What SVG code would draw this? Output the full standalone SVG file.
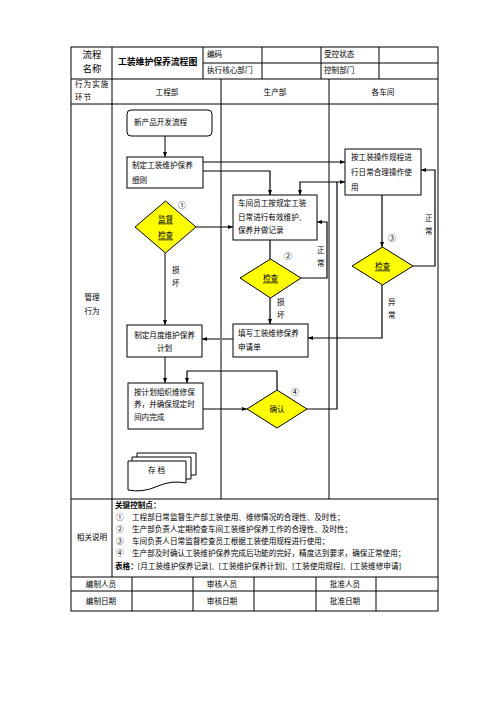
<svg xmlns="http://www.w3.org/2000/svg" width="496" height="702" viewBox="0 0 496 702">
<style>
text{font-family:"Liberation Serif","Noto Sans CJK SC",sans-serif;font-size:7.6px;fill:#000;dominant-baseline:central}
.t{fill:none;stroke:#000;stroke-width:1}
.box{fill:#fff;stroke:#000;stroke-width:1}
.dia{fill:#ffff00;stroke:#000;stroke-width:1}
.c{text-anchor:middle}
.big{font-size:9.5px}
.b{font-weight:bold}
.u{text-decoration:underline}
.k{fill:none;stroke:#000;stroke-width:1.2}
.g{fill:none;stroke:#808080;stroke-width:2}
.n{font-size:8px}
</style>
<defs>
<marker id="a" viewBox="0 0 10 10" refX="10" refY="5" markerWidth="5" markerHeight="5" markerUnits="userSpaceOnUse" orient="auto"><path d="M0,1 L10,5 L0,9 z" fill="#000"/></marker>
</defs>
<rect width="496" height="702" fill="#fff"/>
<g id="table">
<rect class="t" x="71" y="47" width="367" height="564"/>
<path class="t" d="M71,79 H438 M71,104 H438 M71,499 H438 M71,577 H438 M71,591 H438 M203,63 H438"/>
<path class="t" d="M112,47 V577 M203,47 V79 M262,47 V79 M321,47 V79 M379,47 V79 M221,79 V499 M329,79 V499"/>
<path class="t" d="M132,577 V611 M193,577 V611 M254,577 V611 M316,577 V611 M376,577 V611"/>
<text class="c big" x="92" y="55">流程</text>
<text class="c big" x="92" y="69">名称</text>
<text class="b" x="118" y="62" style="font-size:8.8px">工装维护保养流程图</text>
<text x="207" y="54">编码</text>
<text x="207" y="70">执行核心部门</text>
<text x="324" y="54">受控状态</text>
<text x="324" y="70">控制部门</text>
<text x="75" y="84" style="letter-spacing:1px">行为实施</text>
<text x="75" y="97" style="letter-spacing:1px">环节</text>
<text class="c" x="167" y="92">工程部</text>
<text class="c" x="275" y="92">生产部</text>
<text class="c" x="383" y="92">各车间</text>
<text class="c" x="92" y="297">管理</text>
<text class="c" x="92" y="311">行为</text>
<text class="c" x="92" y="537">相关说明</text>
<text class="b" x="115" y="505">关键控制点：</text>
<text x="116" y="517">①</text><text x="132" y="517">工程部日常监督生产部工装使用、维修情况的合理性、及时性；</text>
<text x="116" y="529">②</text><text x="132" y="529">生产部负责人定期检查车间工装维护保养工作的合理性、及时性；</text>
<text x="116" y="541">③</text><text x="132" y="541">车间负责人日常监督检查员工根据工装使用规程进行使用；</text>
<text x="116" y="553">④</text><text x="132" y="553">生产部及时确认工装维护保养完成后功能的完好，精度达到要求，确保正常使用；</text>
<text x="115" y="566"><tspan class="b">表格：</tspan>[月工装维护保养记录]、[工装维护保养计划]、[工装使用规程]、[工装维修申请]</text>
<text class="c" x="101" y="584">编制人员</text>
<text class="c" x="222" y="584">审核人员</text>
<text class="c" x="345" y="584">批准人员</text>
<text class="c" x="101" y="601">编制日期</text>
<text class="c" x="222" y="601">审核日期</text>
<text class="c" x="345" y="601">批准日期</text>
</g>
<g id="connectors">
<path class="g" d="M165,136 V157" marker-end="url(#a)"/>
<path class="k" d="M203,162 H345" marker-end="url(#a)"/>
<path class="k" d="M203,171 H270 V195" marker-end="url(#a)"/>
<path class="k" d="M196,227 H233" marker-end="url(#a)"/>
<path class="g" d="M165,253 V325" marker-end="url(#a)"/>
<path class="k" d="M270,240 V259"/>
<path class="k" d="M301,278 H327 V222 H317" marker-end="url(#a)"/>
<path class="k" d="M270,298 V324" marker-end="url(#a)"/>
<path class="k" d="M382,195 V247" marker-end="url(#a)"/>
<path class="k" d="M413,266 H435 V170 H421" marker-end="url(#a)"/>
<path class="k" d="M382,285 V338 H308" marker-end="url(#a)"/>
<path class="g" d="M233,339 H202" marker-end="url(#a)"/>
<path class="g" d="M165,357 V383" marker-end="url(#a)"/>
<path class="k" d="M203,409 H247" marker-end="url(#a)"/>
<path class="k" d="M277,390 V371 H187 V383" marker-end="url(#a)"/>
<path class="k" d="M307,409 H337 V182 H345" marker-end="url(#a)"/>
<path class="k" d="M337,182 H300 V195" marker-end="url(#a)"/>
<text x="172" y="270">损</text><text x="172" y="283">坏</text>
<text x="277" y="302">损</text><text x="277" y="315">坏</text>
<text x="317" y="250">正</text><text x="317" y="263">常</text>
<text x="425" y="218">正</text><text x="425" y="231">常</text>
<text x="388" y="302">异</text><text x="388" y="315">常</text>
<text class="n c" x="182" y="205">①</text>
<text class="n c" x="288" y="256">②</text>
<text class="n c" x="392" y="238">③</text>
<text class="n c" x="295" y="392">④</text>
</g>
<g id="n-start"><rect class="box" x="127" y="110" width="85" height="26" rx="4"/><text x="134" y="122">新产品开发流程</text></g>
<g id="n-rules"><rect class="box" x="127" y="157" width="76" height="31"/><text x="132" y="165">制定工装维护保养</text><text x="132" y="180">细则</text></g>
<g id="n-operate"><rect class="box" x="345" y="149" width="76" height="46"/><text x="351" y="157">按工装操作规程进</text><text x="351" y="172">行日常合理操作使</text><text x="351" y="187">用</text></g>
<g id="n-maintain"><rect class="box" x="233" y="195" width="84" height="45"/><text x="238" y="203">车间员工按规定工装</text><text x="238" y="217">日常进行有效维护、</text><text x="238" y="230">保养并做记录</text></g>
<g id="n-check1"><path class="dia" d="M165.5,201 L196,227 L165.5,253 L135,227 Z"/><text class="c u" x="165.5" y="219">监督</text><text class="c u" x="165.5" y="235">检查</text></g>
<g id="n-check2"><path class="dia" d="M270.5,259 L301,278 L270.5,298 L240,278 Z"/><text class="c u" x="270.5" y="278">检查</text></g>
<g id="n-check3"><path class="dia" d="M382.5,247 L413,266 L382.5,285 L352,266 Z"/><text class="c u" x="382.5" y="266">检查</text></g>
<g id="n-request"><rect class="box" x="233" y="324" width="75" height="33"/><text x="238" y="333">填写工装维修保养</text><text x="238" y="347">申请单</text></g>
<g id="n-plan"><rect class="box" x="127" y="325" width="75" height="32"/><text class="c" x="164.5" y="335">制定月度维护保养</text><text class="c" x="164.5" y="348">计划</text></g>
<g id="n-exec"><rect class="box" x="128" y="383" width="75" height="46"/><text x="134" y="392">按计划组织维修保</text><text x="134" y="404">养，并确保规定时</text><text x="134" y="417">间内完成</text></g>
<g id="n-confirm"><path class="dia" d="M277,390 L307,409 L277,428 L247,409 Z"/><text class="c" x="277" y="409">确认</text></g>
<g id="n-archive">
<path class="box" d="M137,457 V453 H196 V475 H191"/>
<path class="box" d="M132,461 V457 H191 V479 H186"/>
<path class="box" d="M128,461 H186 V483 Q172,480 158,486 Q143,493 128,490 Z"/>
<text x="148" y="470">存 档</text>
</g>
</svg>
